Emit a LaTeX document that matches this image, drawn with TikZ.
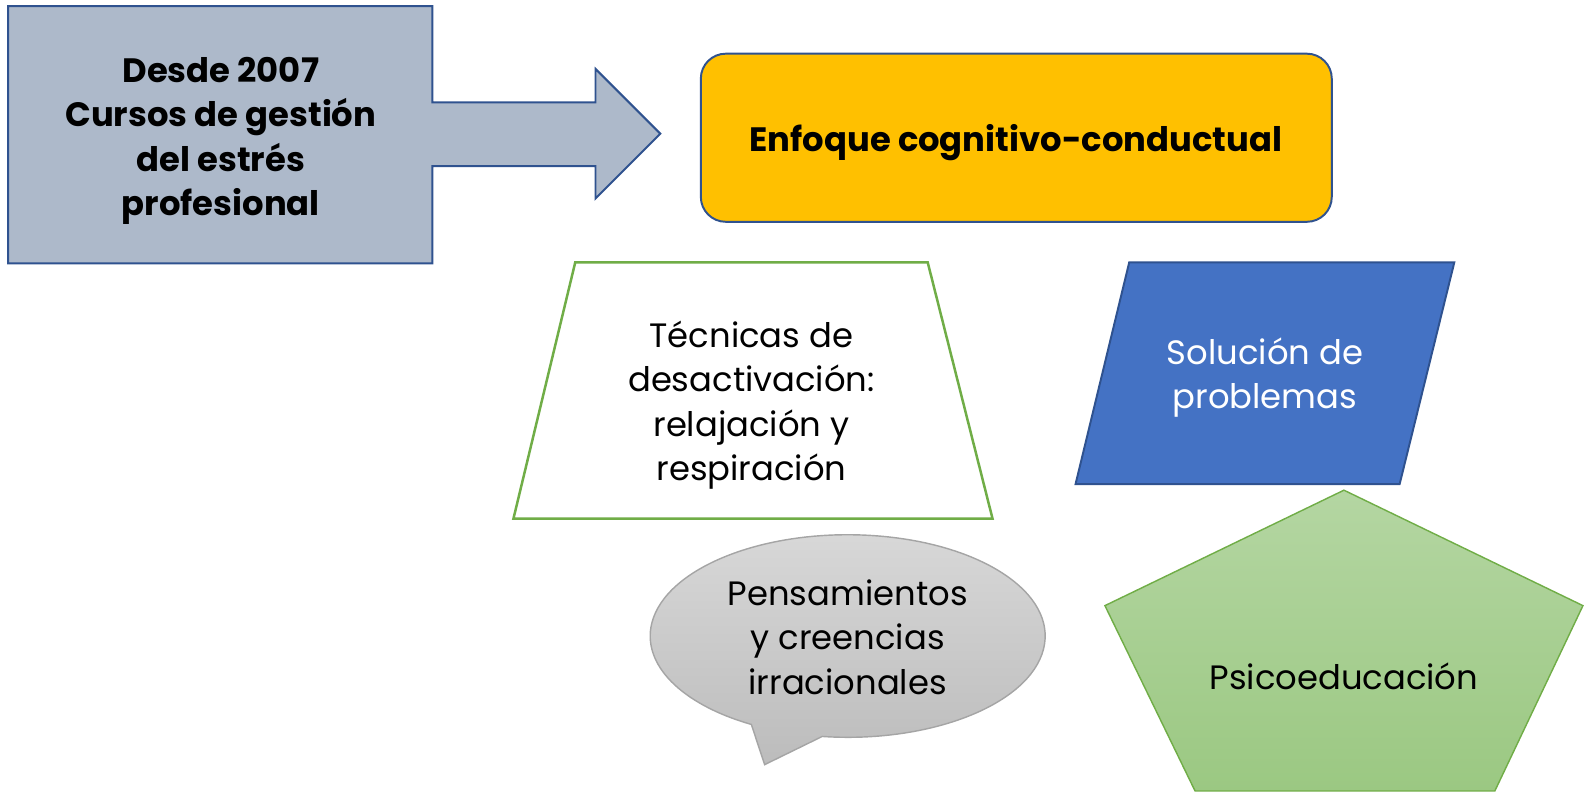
\documentclass[tikz,border=0pt]{standalone}
\usepackage{fontspec}
\setmainfont{Poppins}
\usetikzlibrary{positioning}
\definecolor{slate}{HTML}{ADB9CA}
\definecolor{edgeblue}{HTML}{2F528F}
\definecolor{amber}{HTML}{FFC000}
\definecolor{leaf}{HTML}{70AD47}
\definecolor{royal}{HTML}{4472C4}
\definecolor{greentop}{HTML}{B4D6A2}
\definecolor{greenbot}{HTML}{9BC882}
\definecolor{greytop}{HTML}{D8D8D8}
\definecolor{greybot}{HTML}{BCBCBC}
\definecolor{greyedge}{HTML}{A5A5A5}
\tikzset{
    blueline/.style={draw=edgeblue, line width=1.1pt},
    txt/.style={align=center, font=\fontsize{19}{25}\selectfont},
    boldtxt/.style={txt, font=\fontsize{19}{25}\selectfont\bfseries}
}

\begin{document}
\begin{tikzpicture}[x=0.02cm, y=0.02cm]
\useasboundingbox (0,0) rectangle (1568,-789);

    % box with arrow
    \draw[blueline, fill=slate] (8,-6) -- (427,-6) -- (427,-101) -- (588,-101) -- (588,-68)
        -- (652,-132) -- (588,-196) -- (588,-164) -- (427,-164) -- (427,-260) -- (8,-260) -- cycle;
    \node[boldtxt] (desde) at (218,-139) {Desde 2007\\Cursos de gestión\\del estrés\\profesional};

    \draw[blueline, fill=amber, rounded corners=14pt] (692,-53) rectangle (1315,-219);
    \node[boldtxt] (enfoque) at (1003,-141) {Enfoque cognitivo-conductual};

    \draw[draw=leaf, line width=1.4pt, fill=white] (568,-259) -- (916,-259) -- (980,-512) -- (507,-512) -- cycle;
    \node[txt] (tecnicas) at (742,-400) {Técnicas de\\desactivación:\\relajación y\\respiración};

    \draw[blueline, fill=royal] (1115,-259) -- (1436,-259) -- (1382,-478) -- (1062,-478) -- cycle;
    \node[txt, text=white] (solucion) at (1249,-373) {Solución de\\problemas};

    \draw[draw=leaf, line width=0.8pt, top color=greentop, bottom color=greenbot]
        (1327,-484) -- (1563,-598) -- (1476,-781) -- (1180,-781) -- (1091,-598) -- cycle;
    \node[txt] (psico) at (1327,-668) {Psicoeducación};

    % speech bubble
    \draw[draw=greyedge, line width=0.8pt, top color=greytop, bottom color=greybot]
        (837,-628) ++(262.6:195 and 100) arc[start angle=262.6, end angle=600.8, x radius=195, y radius=100]
        -- (755,-755) -- cycle;
    \node[txt] (pensam) at (837,-629) {Pensamientos\\y creencias\\irracionales};

\end{tikzpicture}
\end{document}
